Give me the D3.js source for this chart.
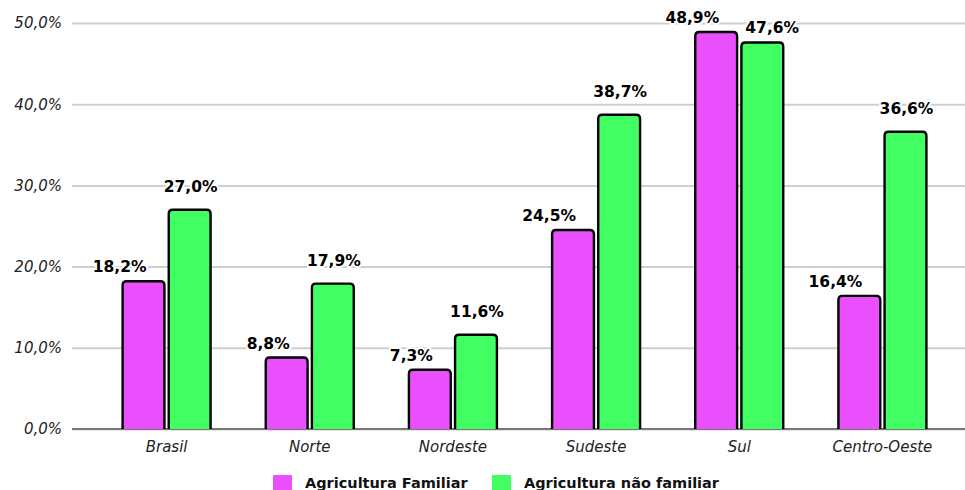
<!DOCTYPE html>
<html><head><meta charset="utf-8">
<script src="https://cdn.jsdelivr.net/npm/d3@7"></script>
<style>
html,body{margin:0;padding:0;background:#fff;}
svg{display:block;font-family:"DejaVu Sans",Verdana,sans-serif;}
</style></head>
<body>
<svg id="chart" width="965" height="490"></svg>
<script>
const categories = ["Brasil","Norte","Nordeste","Sudeste","Sul","Centro-Oeste"];
const seriesNames = ["Agricultura Familiar","Agricultura não familiar"];
const familiar = [18.2, 8.8, 7.3, 24.5, 48.9, 16.4];
const naoFamiliar = [27.0, 17.9, 11.6, 38.7, 47.6, 36.6];
const yTicks = [0, 10, 20, 30, 40, 50];
const colors = ["#e94ffd", "#41ff62"];

const svg = d3.select("#chart");
const fmt = v => d3.format(".1f")(v).replace(".", ",") + "%";

const y = d3.scaleLinear().domain([0, 50]).range([429, 23]);
const x0 = d3.scaleBand().domain(categories).range([95, 954]).padding(0);
const x1 = d3.scaleBand().domain([0, 1]).range([-45, 45]).paddingInner(0.05);

// gridlines
const yAxis = d3.axisLeft(y).tickValues(yTicks).tickSize(-893).tickFormat(fmt).tickPadding(10);
const gy = svg.append("g").attr("transform", "translate(72,0)").call(yAxis);
gy.select(".domain").remove();
gy.selectAll(".tick line").attr("stroke", "#cfcfcf").attr("stroke-width", 2);
gy.selectAll(".tick text").attr("font-size", 15).attr("font-style", "italic")
  .attr("fill", "#222").attr("font-family", "DejaVu Sans, sans-serif");

// x axis
const xAxis = d3.axisBottom(x0).tickSize(0).tickPadding(12);
const gx = svg.append("g").attr("transform", `translate(0,${y(0)})`).call(xAxis);
gx.select(".domain").remove();
gx.selectAll(".tick text").attr("font-size", 15).attr("font-style", "italic")
  .attr("fill", "#222").attr("font-family", "DejaVu Sans, sans-serif");
svg.append("line").attr("x1", 72).attr("x2", 965).attr("y1", y(0)).attr("y2", y(0))
  .attr("stroke", "#777").attr("stroke-width", 2);

const data = categories.map((c, i) => ({cat: c, vals: [familiar[i], naoFamiliar[i]]}));

const groups = svg.append("g").selectAll("g").data(data).join("g")
  .attr("transform", d => `translate(${x0(d.cat) + x0.bandwidth() / 2},0)`);

const bw = x1.bandwidth() - 2;
groups.selectAll("path.bar").data(d => d.vals.map((v, k) => ({v, k}))).join("path")
  .attr("class", "bar")
  .attr("fill", d => colors[d.k])
  .attr("stroke", "#000").attr("stroke-width", 2.4)
  .attr("d", d => {
    const xl = x1(d.k) + 1, xr = xl + bw, top = y(d.v), bot = y(0), r = 4;
    return `M${xl},${bot}V${top + r}Q${xl},${top} ${xl + r},${top}H${xr - r}Q${xr},${top} ${xr},${top + r}V${bot}`;
  });

// data labels
groups.each(function(d) {
  const g = d3.select(this);
  const c0 = x1(0) + x1.bandwidth() / 2, c1 = x1(1) + x1.bandwidth() / 2;
  const greenTaller = d.vals[1] >= d.vals[0];
  const lbl = [
    {v: d.vals[0], x: c0 + 3, y: y(d.vals[0]) - 9, anchor: "end"},
    greenTaller
      ? {v: d.vals[1], x: c1 + 1, y: y(d.vals[1]) - 18, anchor: "middle"}
      : {v: d.vals[1], x: c1 - 17, y: y(d.vals[1]) - 9, anchor: "start"}
  ];
  g.selectAll("text.lbl").data(lbl).join("text").attr("class", "lbl")
    .attr("x", l => l.x).attr("y", l => l.y).attr("text-anchor", l => l.anchor)
    .attr("font-size", 15.5).attr("font-weight", "bold").attr("fill", "#000")
    .attr("stroke", "#fff").attr("stroke-width", 4).attr("paint-order", "stroke")
    .attr("stroke-linejoin", "round")
    .text(l => fmt(l.v));
});

// legend
const legX = [273, 492];
const leg = svg.append("g").selectAll("g").data(seriesNames).join("g")
  .attr("transform", (d, i) => `translate(${legX[i]},475)`);
leg.append("rect").attr("width", 19).attr("height", 19).attr("rx", 1)
  .attr("fill", (d, i) => colors[i]);
leg.append("text").attr("x", 32).attr("y", 13).attr("font-size", 14.5)
  .attr("font-weight", "bold").attr("fill", "#111").text(d => d);
</script>
</body></html>
